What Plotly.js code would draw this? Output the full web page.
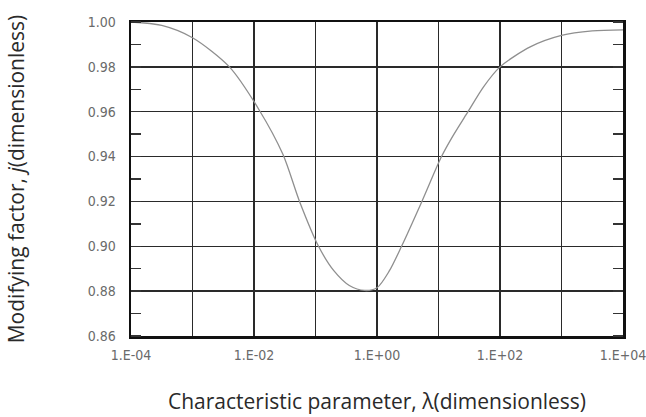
<!DOCTYPE html>
<html>
<head>
<meta charset="utf-8">
<script src="https://cdn.plot.ly/plotly-3.0.1.min.js"></script>
<style>html,body{margin:0;padding:0;background:#fff;}#chart{width:646px;height:417px;}</style>
</head>
<body>
<div id="chart"></div>
<script>
// Characteristic parameter lambda (dimensionless)
const lambdaValues = [1e-4, 3.16e-4, 1e-3, 3.98e-3, 1.2e-2, 2.95e-2, 5.5e-2, 0.112, 0.2, 0.355, 0.631, 1, 1.585, 2.51, 5.37, 11.2, 17, 30.2, 53.7, 100, 316, 1000, 3162, 10000];
// Modifying factor j (dimensionless)
const factorValues = [1.000, 0.9985, 0.993, 0.980, 0.961, 0.941, 0.920, 0.900, 0.889, 0.8825, 0.8803, 0.8815, 0.889, 0.900, 0.920, 0.940, 0.949, 0.960, 0.971, 0.980, 0.989, 0.994, 0.996, 0.9965];
// X gridlines every decade, labels every two decades
const xTickVals = [1e-4, 1e-3, 1e-2, 1e-1, 1, 10, 100, 1000, 10000];
const xTickText = ['1.E-04', '', '1.E-02', '', '1.E+00', '', '1.E+02', '', '1.E+04'];

const tickFont = {family: 'Liberation Sans Narrow, DejaVu Sans Condensed, sans-serif', size: 14, color: '#6a6a6a'};
const titleFont = {family: 'Open Sans, Noto Sans, sans-serif', size: 21, color: '#2a2a2a'};

const trace = {
  x: lambdaValues,
  y: factorValues,
  type: 'scatter',
  mode: 'lines',
  line: {color: '#8f8f8f', width: 1.3, shape: 'spline', smoothing: 0.8},
  hoverinfo: 'x+y'
};

const layout = {
  width: 646,
  height: 417,
  margin: {l: 131, r: 23, t: 22, b: 81},
  paper_bgcolor: '#fff',
  plot_bgcolor: '#fff',
  showlegend: false,
  xaxis: {
    type: 'log',
    range: [-4, 4.0002],
    tickvals: xTickVals,
    ticktext: xTickText,
    ticks: 'outside',
    ticklen: 5,
    tickcolor: 'rgba(0,0,0,0)',
    tickfont: tickFont,
    ticklabeloverflow: 'allow',
    showgrid: true,
    gridcolor: '#2a2a2a',
    gridwidth: 1.5,
    showline: true,
    linecolor: '#111',
    linewidth: 2.5,
    mirror: true,
    zeroline: false,
    title: {text: 'Characteristic parameter, λ(dimensionless)', font: titleFont, standoff: 32}
  },
  yaxis: {
    range: [0.86, 1.00],
    dtick: 0.02,
    tick0: 0.86,
    tickformat: '.2f',
    ticks: 'outside',
    ticklen: 10,
    tickcolor: 'rgba(0,0,0,0)',
    tickfont: tickFont,
    showgrid: true,
    gridcolor: '#2a2a2a',
    gridwidth: 1.5,
    showline: true,
    linecolor: '#111',
    linewidth: 2.5,
    mirror: 'allticks',
    zeroline: false,
    minor: {dtick: 0.01, tick0: 0.86, ticks: 'inside', ticklen: 10, tickcolor: '#333', tickwidth: 1.5, showgrid: false},
    title: {text: 'Modifying factor, <i>j</i>(dimensionless)', font: titleFont, standoff: 58}
  }
};

Plotly.newPlot('chart', [trace], layout, {displayModeBar: false, staticPlot: true});
</script>
</body>
</html>
